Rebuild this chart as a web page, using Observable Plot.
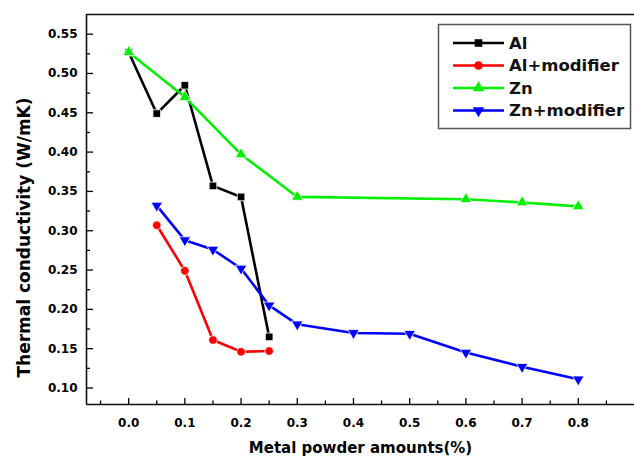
<!DOCTYPE html>
<html><head><meta charset="utf-8">
<script src="https://cdn.jsdelivr.net/npm/d3@7"></script>
<script src="https://cdn.jsdelivr.net/npm/@observablehq/plot@0.6"></script>
<style>
body{margin:0;background:#fff;}
#wrap{position:relative;width:634px;height:457px;}
</style></head><body><div id="wrap"></div>
<script>
// ---- data ----
const seriesNames = ["Al", "Al+modifier", "Zn", "Zn+modifier"];
const alX = [0, 0.05, 0.1, 0.15, 0.2, 0.25];
const alY = [0.527, 0.449, 0.485, 0.357, 0.343, 0.165];
const alModX = [0.05, 0.1, 0.15, 0.2, 0.25];
const alModY = [0.307, 0.249, 0.161, 0.146, 0.147];
const znX = [0, 0.1, 0.2, 0.3, 0.6, 0.7, 0.8];
const znY = [0.527, 0.470, 0.397, 0.343, 0.340, 0.336, 0.331];
const znModX = [0.05, 0.1, 0.15, 0.2, 0.25, 0.3, 0.4, 0.5, 0.6, 0.7, 0.8];
const znModY = [0.332, 0.288, 0.276, 0.252, 0.205, 0.181, 0.170, 0.169, 0.145, 0.127, 0.111];
const xMajor = [0, 0.1, 0.2, 0.3, 0.4, 0.5, 0.6, 0.7, 0.8];
const xMinor = [-0.05, 0.05, 0.15, 0.25, 0.35, 0.45, 0.55, 0.65, 0.75, 0.85];
const yMajor = [0.10, 0.15, 0.20, 0.25, 0.30, 0.35, 0.40, 0.45, 0.50, 0.55];
const yMinor = [0.125, 0.175, 0.225, 0.275, 0.325, 0.375, 0.425, 0.475, 0.525];
const xTitle = "Metal powder amounts(%)";
const yTitle = "Thermal conductivity (W/mK)";

const W = 634, H = 457;
const xDomain = [-0.075, 0.9];
const yDomain = [0.079, 0.575];

const triDown = {
  draw(context, size) {
    const y = -Math.sqrt(size / (Math.sqrt(3) * 3));
    context.moveTo(0, -y * 2);
    context.lineTo(-Math.sqrt(3) * y, y);
    context.lineTo(Math.sqrt(3) * y, y);
    context.closePath();
  }
};

const colors = ["#000000", "#ff0000", "#00f000", "#0000ff"];
const symbols = ["square", "circle", "triangle", triDown];
const d3symbols = [d3.symbolSquare, d3.symbolCircle, d3.symbolTriangle, triDown];
const xsList = [alX, alModX, znX, znModX];
const ysList = [alY, alModY, znY, znModY];

const rowsBySeries = seriesNames.map((name, k) =>
  xsList[k].map((x, i) => ({series: name, x, y: ysList[k][i]})));

const dataMarks = rowsBySeries.flatMap((rows, k) => [
  Plot.line(rows, {x: "x", y: "y", stroke: colors[k], strokeWidth: 2.6}),
  Plot.dot(rows, {x: "x", y: "y", symbol: () => symbols[k], fill: colors[k], stroke: "white", strokeWidth: 0.8, r: 4.3})
]);

const chart = Plot.plot({
  width: W, height: H,
  marginLeft: 86, marginRight: 0, marginTop: 14, marginBottom: 53,
  style: {fontFamily: "DejaVu Sans", fontWeight: "bold", fontSize: "12px", color: "#000", background: "#fff"},
  x: {domain: xDomain},
  y: {domain: yDomain},
  symbol: {type: "identity"},
  marks: [
    Plot.ruleX([xDomain[0]], {stroke: "#111", strokeWidth: 1.6}),
    Plot.ruleY(yDomain, {stroke: "#111", strokeWidth: 1.6}),
    Plot.axisX({ticks: xMajor, tickSize: -6, tickPadding: 20, tickFormat: d3.format(".1f"), label: null, strokeWidth: 1.3}),
    Plot.axisX({ticks: xMinor, tickSize: -3.5, text: null, label: null, strokeWidth: 1.3}),
    Plot.axisY({ticks: yMajor, tickSize: -7, tickPadding: 16, tickFormat: d3.format(".2f"), label: null, strokeWidth: 1.3}),
    Plot.axisY({ticks: yMinor, tickSize: -4, text: null, label: null, strokeWidth: 1.3}),
    ...dataMarks,
    Plot.text([yTitle], {text: d => d, frameAnchor: "left", rotate: -90, dx: -62, dy: 28, fontSize: 17, fontWeight: "bold", textAnchor: "middle", lineAnchor: "middle"}),
    Plot.text([xTitle], {text: d => d, frameAnchor: "bottom", dy: 44, fontSize: 15, fontWeight: "bold", textAnchor: "middle", lineAnchor: "middle"})
  ]
});
document.getElementById("wrap").appendChild(chart);

// ---- legend overlay ----
const lg = d3.select("#wrap").append("svg")
  .attr("width", W).attr("height", H)
  .style("position", "absolute").style("left", 0).style("top", 0);
lg.append("rect").attr("x", 438.5).attr("y", 24.5).attr("width", 192).attr("height", 104)
  .attr("fill", "white").attr("stroke", "#555").attr("stroke-width", 1.5);
seriesNames.forEach((name, k) => {
  const y = 43 + k * 22.5;
  lg.append("line").attr("x1", 453).attr("x2", 504).attr("y1", y).attr("y2", y)
    .attr("stroke", colors[k]).attr("stroke-width", 2.6);
  lg.append("path").attr("d", d3.symbol().type(d3symbols[k]).size(Math.PI * 4.3 * 4.3)())
    .attr("transform", `translate(478.5,${y})`).attr("fill", colors[k]);
  lg.append("text").attr("x", 509).attr("y", y).attr("dy", "0.36em")
    .attr("font-family", "DejaVu Sans").attr("font-weight", "bold").attr("font-size", 16.5)
    .attr("fill", "#111").text(name);
});
</script></body></html>
